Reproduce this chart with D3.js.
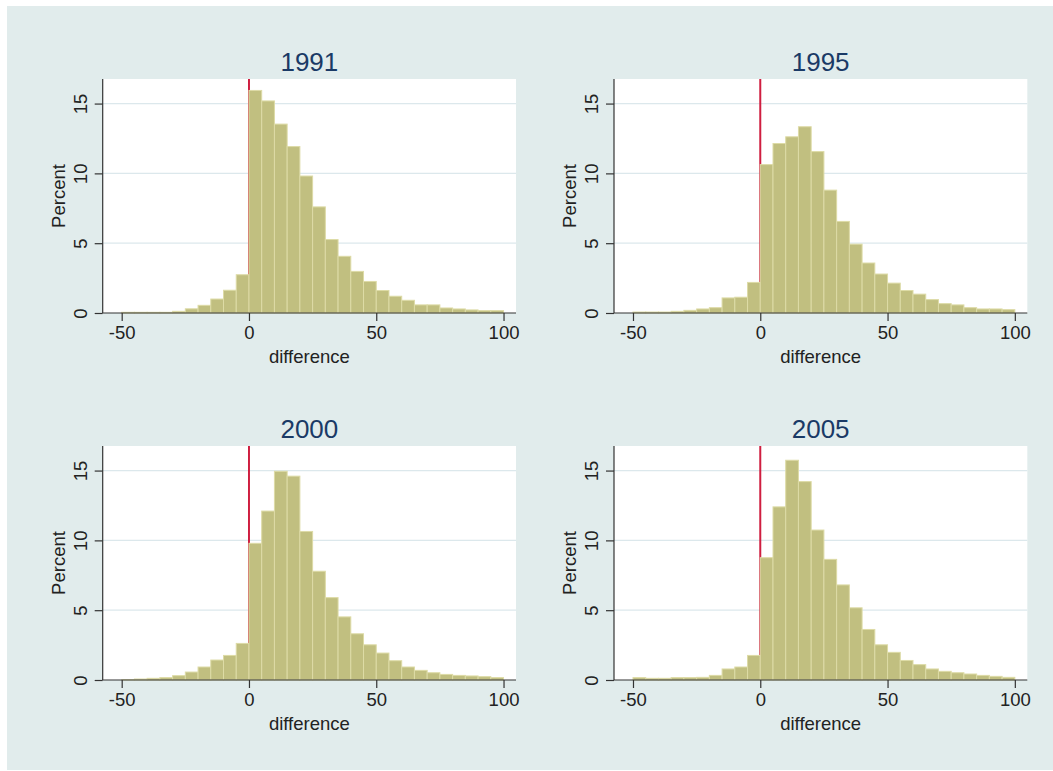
<!DOCTYPE html>
<html>
<head>
<meta charset="utf-8">
<script src="https://cdn.jsdelivr.net/npm/d3@7"></script>
<style>
  html, body { margin: 0; padding: 0; background: #ffffff; }
  svg { display: block; }
  text { font-family: "Liberation Sans", Arial, sans-serif; }
</style>
</head>
<body>
<svg id="chart" width="1053" height="771"></svg>
<script>
// ---- data ----
const years = ["1991", "1995", "2000", "2005"];
const binStarts = [-50,-45,-40,-35,-30,-25,-20,-15,-10,-5,0,5,10,15,20,25,30,35,40,45,50,55,60,65,70,75,80,85,90,95];
const binWidth = 5;
const pct1991 = [0.05,0.05,0.05,0.05,0.12,0.30,0.55,1.00,1.63,2.74,15.94,15.19,13.53,11.92,9.81,7.60,5.26,4.06,2.98,2.26,1.61,1.20,0.91,0.58,0.58,0.36,0.29,0.22,0.17,0.17];
const pct1995 = [0.07,0.07,0.07,0.12,0.19,0.29,0.38,1.08,1.13,2.19,10.63,12.14,12.62,13.34,11.56,8.80,6.56,4.93,3.58,2.79,2.14,1.61,1.35,0.96,0.67,0.58,0.38,0.29,0.29,0.24];
const pct2000 = [0.02,0.07,0.12,0.17,0.31,0.57,0.93,1.43,1.76,2.62,9.79,12.10,14.95,14.60,10.64,7.79,5.90,4.52,3.31,2.52,1.93,1.38,0.93,0.69,0.52,0.40,0.33,0.29,0.24,0.17];
const pct2005 = [0.17,0.12,0.12,0.17,0.17,0.19,0.33,0.79,0.93,1.76,8.76,12.40,15.74,14.21,10.74,8.64,6.81,5.17,3.62,2.52,1.98,1.40,1.10,0.79,0.62,0.52,0.43,0.33,0.26,0.19];
const xTicks = [-50, 0, 50, 100];
const yTicks = [0, 5, 10, 15];
const yGrid = [5, 10, 15];
const refLine = 0;
const xLabel = "difference";
const yLabel = "Percent";

const series = [pct1991, pct1995, pct2000, pct2005];

// ---- layout ----
const svg = d3.select("#chart");
svg.append("rect").attr("x", 7).attr("y", 6).attr("width", 1046).attr("height", 764)
  .attr("fill", "#e1ecec");

const plotW = 413.3, plotH = 234;
const origins = [[102.7, 79], [614, 79], [102.7, 446], [614, 446]];

const x = d3.scaleLinear().domain([-57.46, 104.9]).range([0, plotW]);
const y = d3.scaleLinear().domain([0, 16.76]).range([plotH, 0]);
const plainFmt = d => String(d);

years.forEach((yr, i) => {
  const [ox, oy] = origins[i];
  const g = svg.append("g").attr("transform", `translate(${ox},${oy})`);

  // plot region
  g.append("rect").attr("x", 0).attr("y", 0).attr("width", plotW).attr("height", plotH)
    .attr("fill", "#ffffff");

  // gridlines
  g.selectAll("line.grid").data(yGrid).enter().append("line")
    .attr("x1", 0).attr("x2", plotW)
    .attr("y1", d => y(d)).attr("y2", d => y(d))
    .attr("stroke", "#dce8ec").attr("stroke-width", 1.3);

  // reference line
  g.append("line")
    .attr("x1", x(refLine)).attr("x2", x(refLine))
    .attr("y1", 0).attr("y2", plotH)
    .attr("stroke", "#cf1e40").attr("stroke-width", 2);

  // bars
  const vals = series[i];
  g.selectAll("rect.bar").data(binStarts).enter().append("rect")
    .attr("class", "bar")
    .attr("x", d => x(d))
    .attr("width", d => x(d + binWidth) - x(d))
    .attr("y", (d, j) => y(vals[j]))
    .attr("height", (d, j) => y(0) - y(vals[j]))
    .attr("fill", "#c1bf80")
    .attr("stroke", "#dddba6")
    .attr("stroke-width", 1);

  // y axis
  const yAxis = d3.axisLeft(y).tickValues(yTicks).tickSize(8).tickPadding(8).tickFormat(plainFmt);
  const ya = g.append("g").call(yAxis);
  ya.select(".domain").attr("stroke", "#333").attr("stroke-width", 1.2)
    .attr("d", `M0,0V${plotH}`);
  ya.selectAll(".tick line").attr("stroke", "#333").attr("stroke-width", 1.2);
  ya.selectAll(".tick text")
    .attr("font-size", 18.5).attr("fill", "#222")
    .attr("x", null).attr("dy", null)
    .attr("transform", "translate(-16,0) rotate(-90)")
    .attr("text-anchor", "middle")
    .attr("y", 0);

  // x axis
  const xAxis = d3.axisBottom(x).tickValues(xTicks).tickSize(8).tickPadding(5).tickFormat(plainFmt);
  const xa = g.append("g").attr("transform", `translate(0,${plotH})`).call(xAxis);
  xa.select(".domain").attr("stroke", "#333").attr("stroke-width", 1.2)
    .attr("d", `M0,0H${plotW}`);
  xa.selectAll(".tick line").attr("stroke", "#333").attr("stroke-width", 1.2);
  xa.selectAll(".tick text").attr("font-size", 18.5).attr("fill", "#222");

  // axis titles
  g.append("text")
    .attr("x", plotW / 2).attr("y", plotH + 50)
    .attr("text-anchor", "middle").attr("font-size", 18.5).attr("fill", "#222")
    .text(xLabel);
  g.append("text")
    .attr("transform", `translate(-38,${plotH / 2}) rotate(-90)`)
    .attr("text-anchor", "middle").attr("font-size", 18.5).attr("fill", "#222")
    .text(yLabel);

  // panel title
  g.append("text")
    .attr("x", plotW / 2).attr("y", -8)
    .attr("text-anchor", "middle").attr("font-size", 26).attr("fill", "#1a3a66")
    .text(yr);
});
</script>
</body>
</html>
